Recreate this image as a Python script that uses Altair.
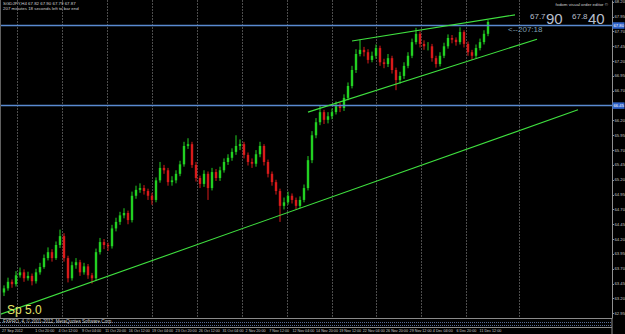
import altair as alt
import pandas as pd

# ---- candle data (H4 bars) ----
opens = [63.30, 63.37, 63.48, 63.44, 63.59, 63.64, 63.54, 63.58, 63.49, 63.64,
         63.73, 63.88, 63.98, 63.88, 64.10, 64.25, 63.88, 63.54, 63.76, 63.81,
         63.64, 63.74, 63.59, 63.54, 63.98, 64.15, 64.10, 64.08, 64.38, 64.49,
         64.60, 64.64, 64.52, 64.93, 65.03, 65.06, 65.01, 64.93, 64.86, 65.19,
         65.40, 65.36, 65.16, 65.19, 65.30, 65.46, 65.77, 65.80, 65.45, 65.23,
         65.13, 65.30, 65.06, 65.33, 65.23, 65.36, 65.50, 65.57, 65.67, 65.77,
         65.80, 65.62, 65.50, 65.47, 65.63, 65.77, 65.50, 65.30, 65.16, 65.01,
         64.76, 64.82, 64.93, 64.86, 64.76, 64.86, 65.06, 65.53, 65.95, 66.17,
         66.34, 66.21, 66.27, 66.34, 66.44, 66.41, 66.58, 66.78, 67.05, 67.32,
         67.39, 67.35, 67.22, 67.29, 67.42, 67.18, 67.15, 67.25, 67.05, 66.88,
         66.95, 67.12, 67.29, 67.52, 67.66, 67.49, 67.45, 67.45, 67.25, 67.15,
         67.29, 67.45, 67.59, 67.56, 67.52, 67.69, 67.49, 67.35, 67.29, 67.42,
         67.52, 67.66]
closes = [63.37, 63.48, 63.44, 63.59, 63.64, 63.54, 63.58, 63.49, 63.64, 63.73,
          63.88, 63.98, 63.88, 64.10, 64.25, 63.88, 63.54, 63.76, 63.81, 63.64,
          63.74, 63.59, 63.54, 63.98, 64.15, 64.10, 64.08, 64.38, 64.49, 64.60,
          64.64, 64.52, 64.93, 65.03, 65.06, 65.01, 64.93, 64.86, 65.19, 65.40,
          65.36, 65.16, 65.19, 65.30, 65.46, 65.77, 65.80, 65.45, 65.23, 65.13,
          65.30, 65.06, 65.33, 65.23, 65.36, 65.50, 65.57, 65.67, 65.77, 65.80,
          65.62, 65.50, 65.47, 65.63, 65.77, 65.50, 65.30, 65.16, 65.01, 64.76,
          64.82, 64.93, 64.86, 64.76, 64.86, 65.06, 65.53, 65.95, 66.17, 66.34,
          66.21, 66.27, 66.34, 66.44, 66.41, 66.58, 66.78, 67.05, 67.32, 67.39,
          67.35, 67.22, 67.29, 67.42, 67.18, 67.15, 67.25, 67.05, 66.88, 66.95,
          67.12, 67.29, 67.52, 67.66, 67.49, 67.45, 67.45, 67.25, 67.15, 67.29,
          67.45, 67.59, 67.56, 67.52, 67.69, 67.49, 67.35, 67.29, 67.42, 67.52,
          67.66, 67.86]
highs = [63.42, 63.55, 63.52, 63.66, 63.72, 63.69, 63.65, 63.62, 63.70, 63.80,
         63.94, 64.06, 64.03, 64.16, 64.36, 64.30, 63.92, 63.82, 63.88, 63.85,
         63.80, 63.78, 63.63, 64.04, 64.22, 64.20, 64.14, 64.44, 64.56, 64.66,
         64.72, 64.68, 65.00, 65.10, 65.14, 65.11, 65.05, 64.98, 65.24, 65.50,
         65.45, 65.40, 65.26, 65.36, 65.52, 65.84, 65.90, 65.84, 65.50, 65.27,
         65.36, 65.34, 65.40, 65.38, 65.42, 65.56, 65.63, 65.73, 65.95, 65.88,
         65.84, 65.66, 65.56, 65.70, 65.84, 65.80, 65.54, 65.34, 65.20, 65.05,
         64.90, 65.00, 64.97, 64.90, 64.92, 65.12, 65.60, 66.02, 66.24, 66.45,
         66.38, 66.34, 66.40, 66.52, 66.50, 66.64, 66.84, 67.12, 67.40, 67.56,
         67.44, 67.40, 67.36, 67.48, 67.46, 67.24, 67.32, 67.29, 67.09, 67.02,
         67.18, 67.35, 67.58, 67.76, 67.70, 67.55, 67.52, 67.49, 67.29, 67.35,
         67.51, 67.65, 67.64, 67.60, 67.77, 67.72, 67.53, 67.39, 67.48, 67.58,
         67.72, 67.89]
lows = [63.24, 63.33, 63.38, 63.40, 63.55, 63.48, 63.50, 63.42, 63.45, 63.60,
        63.70, 63.84, 63.82, 63.85, 64.05, 63.82, 63.47, 63.50, 63.70, 63.58,
        63.60, 63.53, 63.45, 63.50, 63.94, 64.03, 64.00, 64.04, 64.33, 64.44,
        64.55, 64.45, 64.48, 64.88, 64.98, 64.95, 64.86, 64.78, 64.82, 65.15,
        65.30, 65.10, 65.10, 65.14, 65.26, 65.42, 65.72, 65.40, 65.17, 65.06,
        65.08, 64.86, 65.02, 65.18, 65.18, 65.32, 65.45, 65.52, 65.62, 65.70,
        65.56, 65.44, 65.40, 65.42, 65.58, 65.44, 65.24, 65.10, 64.95, 64.49,
        64.70, 64.78, 64.80, 64.70, 64.72, 64.82, 65.02, 65.48, 65.90, 66.12,
        66.14, 66.15, 66.22, 66.30, 66.34, 66.36, 66.54, 66.74, 67.00, 67.28,
        67.28, 67.16, 67.18, 67.24, 67.12, 67.08, 67.10, 66.99, 66.71, 66.82,
        66.90, 67.08, 67.25, 67.48, 67.43, 67.39, 67.38, 67.19, 67.09, 67.11,
        67.25, 67.41, 67.50, 67.46, 67.48, 67.43, 67.29, 67.22, 67.25, 67.38,
        67.48, 67.62]
bar_index = list(range(len(closes)))

# ---- price axis ----
price_ticks = [68.20, 67.95, 67.70, 67.45, 67.20, 66.95, 66.70, 66.45, 66.20,
               65.95, 65.70, 65.45, 65.20, 64.95, 64.70, 64.45, 64.20, 63.95,
               63.70, 63.45, 63.20, 62.95]
level_prices = [67.80, 66.45]
level_labels = ["67.80", "66.45"]

# ---- time axis (bar index positions) ----
grid_bars = [3.25, 14.5, 25.75, 37.0, 48.25, 59.5, 70.75, 82.0, 93.0, 104.25,
             115.5, 128.75]
time_label_bars = [-0.5, 7.8, 13.6, 19.5, 25.3, 31.2, 37.0, 42.9, 48.7, 54.6,
                   60.4, 66.3, 72.1, 78.0, 83.8, 89.7, 95.5, 101.4, 107.2,
                   113.1, 118.9]
time_labels = ["27 Sep 2012", "1 Oct 20:00", "4 Oct 12:00", "9 Oct 04:00",
               "11 Oct 20:00", "16 Oct 12:00", "19 Oct 04:00", "23 Oct 20:00",
               "26 Oct 12:00", "31 Oct 04:00", "2 Nov 20:00", "7 Nov 12:00",
               "12 Nov 04:00", "14 Nov 20:00", "19 Nov 12:00", "22 Nov 04:00",
               "26 Nov 20:00", "29 Nov 12:00", "4 Dec 04:00", "6 Dec 20:00",
               "11 Dec 12:00"]

# ---- trend lines (bar index, price) ----
tl_x1 = [-1.0, 76.0, 87.0]
tl_y1 = [62.93, 66.34, 67.54]
tl_x2 = [143.5, 133.25, 127.75]
tl_y2 = [66.38, 67.57, 67.98]

W, H = 612, 318
FONT = "Liberation Sans"

candles = pd.DataFrame({"i": bar_index, "open": opens, "close": closes,
                        "high": highs, "low": lows})
candles["dir"] = ["up" if c >= o else "down" for o, c in zip(opens, closes)]

# axis labels: the highlighted level prices carry their own boxed label
axis_ticks = [p for p in price_ticks if p not in level_prices]

xs = alt.Scale(domain=[-1, 152], nice=False, zero=False)
ys = alt.Scale(domain=[62.87, 68.23], nice=False, zero=False)
ax_x = alt.Axis(values=grid_bars, labels=False, ticks=False, domain=False,
                grid=True, gridDash=[1, 2], gridColor="#a8a8a8",
                gridOpacity=0.9, title=None)
ax_y = alt.Axis(orient="right", values=axis_ticks, format=".2f",
                labelFontSize=4.2, labelColor="#c8c8c8", labelFont=FONT,
                tickSize=1.5, tickColor="#909090", domainColor="#909090",
                labelPadding=0.5, grid=False, title=None)


def X(field):
    return alt.X(field, scale=xs, axis=ax_x, title=None)


def Y(field):
    return alt.Y(field, scale=ys, axis=ax_y, title=None)


col = alt.Color("dir:N", scale=alt.Scale(domain=["up", "down"],
                                          range=["#22d022", "#d81a1a"]),
                legend=None)

base = alt.Chart(candles)
wicks = base.mark_rule(strokeWidth=1).encode(
    x=X("i:Q"), y=Y("low:Q"), y2="high:Q", color=col)
bodies = base.mark_rule(strokeWidth=2.4, strokeCap="butt").encode(
    x=X("i:Q"), y=Y("open:Q"), y2="close:Q", color=col)

levels_df = pd.DataFrame({"p": level_prices, "lab": level_labels})
levels = alt.Chart(levels_df).mark_rule(color="#5a8ad0", strokeWidth=1.5).encode(
    y=Y("p:Q"), x=alt.value(0), x2=alt.value(W))
level_box = alt.Chart(levels_df).mark_rule(color="#2f62c8", strokeWidth=6.5).encode(
    y=Y("p:Q"), x=alt.value(W + 0.5), x2=alt.value(624.5))
level_txt = alt.Chart(levels_df).mark_text(
    align="left", baseline="middle", fontSize=4.2, color="#ffffff", font=FONT
).encode(y=Y("p:Q"), x=alt.value(W + 1.5), text="lab:N")

tl_df = pd.DataFrame({"x1": tl_x1, "y1": tl_y1, "x2": tl_x2, "y2": tl_y2})
trend = alt.Chart(tl_df).mark_rule(color="#3fe03f", strokeWidth=1.1).encode(
    x=X("x1:Q"), x2="x2:Q", y=Y("y1:Q"), y2="y2:Q")

tdf = pd.DataFrame({"t": time_label_bars, "lab": time_labels})
tlabels = alt.Chart(tdf).mark_text(
    align="left", baseline="middle", fontSize=3.7, color="#c8c8c8", font=FONT
).encode(x=X("t:Q"), y=alt.value(330.5), text="lab:N")

# frame lines (bottom border, info strip)
frame_df = pd.DataFrame({"k": ["a"]})
frame = alt.Chart(frame_df)
bottom1 = frame.mark_rule(color="#8a8a8a", strokeWidth=1.2).encode(
    x=alt.value(0), x2=alt.value(W), y=alt.value(318.5))
bottom2 = frame.mark_rule(color="#8a8a8a", strokeWidth=1).encode(
    x=alt.value(0), x2=alt.value(W), y=alt.value(327.5))
dots1 = frame.mark_rule(color="#5a6c96", strokeWidth=1, strokeDash=[1, 1]).encode(
    x=alt.value(0), x2=alt.value(W), y=alt.value(322.5))
dots2 = frame.mark_rule(color="#5a6c96", strokeWidth=1, strokeDash=[1, 1]).encode(
    x=alt.value(0), x2=alt.value(W), y=alt.value(325.5))
rightline = frame.mark_rule(color="#909090", strokeWidth=1).encode(
    x=alt.value(W), y=alt.value(318), y2=alt.value(334))
leftline = frame.mark_rule(color="#606060", strokeWidth=1).encode(
    x=alt.value(0.5), y=alt.value(0), y2=alt.value(318))


def label(text, x, y, size, color, align="left", baseline="middle"):
    return frame.mark_text(text=text, align=align, baseline=baseline,
                           fontSize=size, color=color, font=FONT).encode(
        x=alt.value(x), y=alt.value(y))


texts = [
    label("SGDJPY,H4  67.82 67.90 67.79 67.87", 3, 4, 4.4, "#d0d0d0"),
    label("207 minutes 18 seconds left to bar end", 3, 9, 4.4, "#d0d0d0"),
    label("fxdom visual order editor \u00a9", 608, 5, 4.4, "#d0d0d0", align="right"),
    label("67.7", 530, 17, 8, "#b8bfcc"),
    label("90", 546, 18.5, 15, "#b8bfcc"),
    label("67.8", 572, 17, 8, "#b8bfcc"),
    label("40", 588, 18.5, 15, "#b8bfcc"),
    label("<--207:18", 508, 30, 8, "#7f9fb0"),
    label("Sp 5.0", 7, 310, 12, "#e4e46a"),
    label("FXPRO, 4, \u00a9 2001-2012, MetaQuotes Software Corp.", 3, 321.5, 4.6,
          "#d0d0d0"),
]

chart = alt.layer(
    wicks, bodies, levels, trend, level_box, level_txt, tlabels,
    bottom1, bottom2, dots1, dots2, rightline, leftline, *texts
).properties(
    width=W, height=H,
    autosize=alt.AutoSizeParams(type="none"),
    padding={"left": 0, "top": 0, "right": 13, "bottom": 16},
    background="#000000",
).configure_view(stroke=None)

chart.save("out.html", embed_options={"renderer": "svg", "actions": False})
